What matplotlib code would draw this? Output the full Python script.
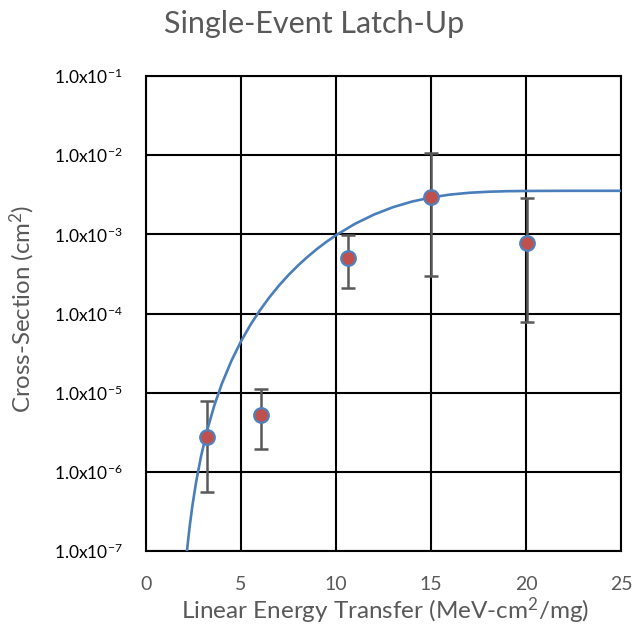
import numpy as np
import matplotlib
matplotlib.use("Agg")
import matplotlib.pyplot as plt

plt.rcParams['font.family'] = ['Lato', 'DejaVu Sans']
plt.rcParams['mathtext.fontset'] = 'custom'
plt.rcParams['mathtext.rm'] = 'Lato'
plt.rcParams['mathtext.it'] = 'Lato'

# measured points: LET, cross-section and error bar limits
let_values = [3.23, 6.04, 10.65, 15.0, 20.07]
cross_section = [2.72e-6, 5.16e-6, 5.0e-4, 3.0e-3, 7.85e-4]
err_low = [5.5e-7, 1.95e-6, 2.1e-4, 3.0e-4, 7.85e-5]
err_high = [7.8e-6, 1.12e-5, 9.8e-4, 1.08e-2, 2.86e-3]

# fitted curve (log10 of cross-section)
fit_let = [2.1, 2.17, 2.3, 2.45, 2.65, 2.9, 3.23, 3.6, 4.0, 4.5, 5.0, 5.5,
           6.0, 6.5, 7.0, 7.5, 8.0, 8.5, 9.0, 9.5, 10.0, 11.0, 12.0, 13.0,
           14.0, 15.0, 16.0, 17.0, 18.0, 19.0, 20.0, 22.0, 25.0]
fit_log_sigma = [-7.146, -6.97, -6.689, -6.416, -6.114, -5.802, -5.467,
                 -5.159, -4.883, -4.596, -4.352, -4.142, -3.959, -3.794,
                 -3.647, -3.514, -3.394, -3.285, -3.185, -3.094, -3.011,
                 -2.867, -2.750, -2.657, -2.586, -2.534, -2.498, -2.475,
                 -2.462, -2.455, -2.452, -2.450, -2.450]

y_ticks = [1e-7, 1e-6, 1e-5, 1e-4, 1e-3, 1e-2, 1e-1]
x_ticks = [0, 5, 10, 15, 20, 25]

fig = plt.figure(figsize=(6.33, 6.41), dpi=100)
ax = fig.add_axes([0.2306, 0.1404, 0.7504, 0.7410])

ax.set_yscale('log')
ax.set_xlim(0, 25)
ax.set_ylim(1e-7, 1e-1)

ax.grid(True, color='black', linewidth=1.5, zorder=0)
ax.set_axisbelow(True)

y = np.array(cross_section)
yerr = [y - np.array(err_low), np.array(err_high) - y]
ax.errorbar(let_values, y, yerr=yerr, fmt='none', ecolor='#595959',
            elinewidth=1.8, capsize=4.7, capthick=1.8, zorder=2)

ax.plot(fit_let, 10 ** np.array(fit_log_sigma), color='#4A7EBB',
        linewidth=1.9, zorder=3)

ax.plot(let_values, y, 'o', markersize=10.5, markerfacecolor='#C0504D',
        markeredgecolor='#4F81BD', markeredgewidth=1.6, zorder=4)

ax.set_xticks(x_ticks)
ax.set_yticks(y_ticks)
ax.set_yticklabels([f"1.0x10$^{{\\mathregular{{{int(np.log10(t))}}}}}$" for t in y_ticks])
ax.minorticks_off()
ax.tick_params(axis='both', length=0, labelsize=12.5, colors='black')
ax.tick_params(axis='y', pad=17)
ax.tick_params(axis='x', pad=18, labelsize=14)
for lbl in ax.get_xticklabels():
    lbl.set_color('#595959')

for s in ax.spines.values():
    s.set_color('black')
    s.set_linewidth(1.5)

ax.set_xlabel("Linear Energy Transfer (MeV-cm$^{\\mathregular{2}}$/mg)",
              fontsize=17.5, color='#595959', va='center')
ax.xaxis.set_label_coords(0.503, -0.126)
ax.set_ylabel("Cross-Section (cm$^{\\mathregular{2}}$)", fontsize=17.3,
              color='#595959', va='center')
ax.yaxis.set_label_coords(-0.261, 0.51)
fig.text(0.497, 0.962, "Single-Event Latch-Up", ha='center', va='center',
         fontsize=22, color='#595959')

fig.savefig("out.png", dpi=100)
